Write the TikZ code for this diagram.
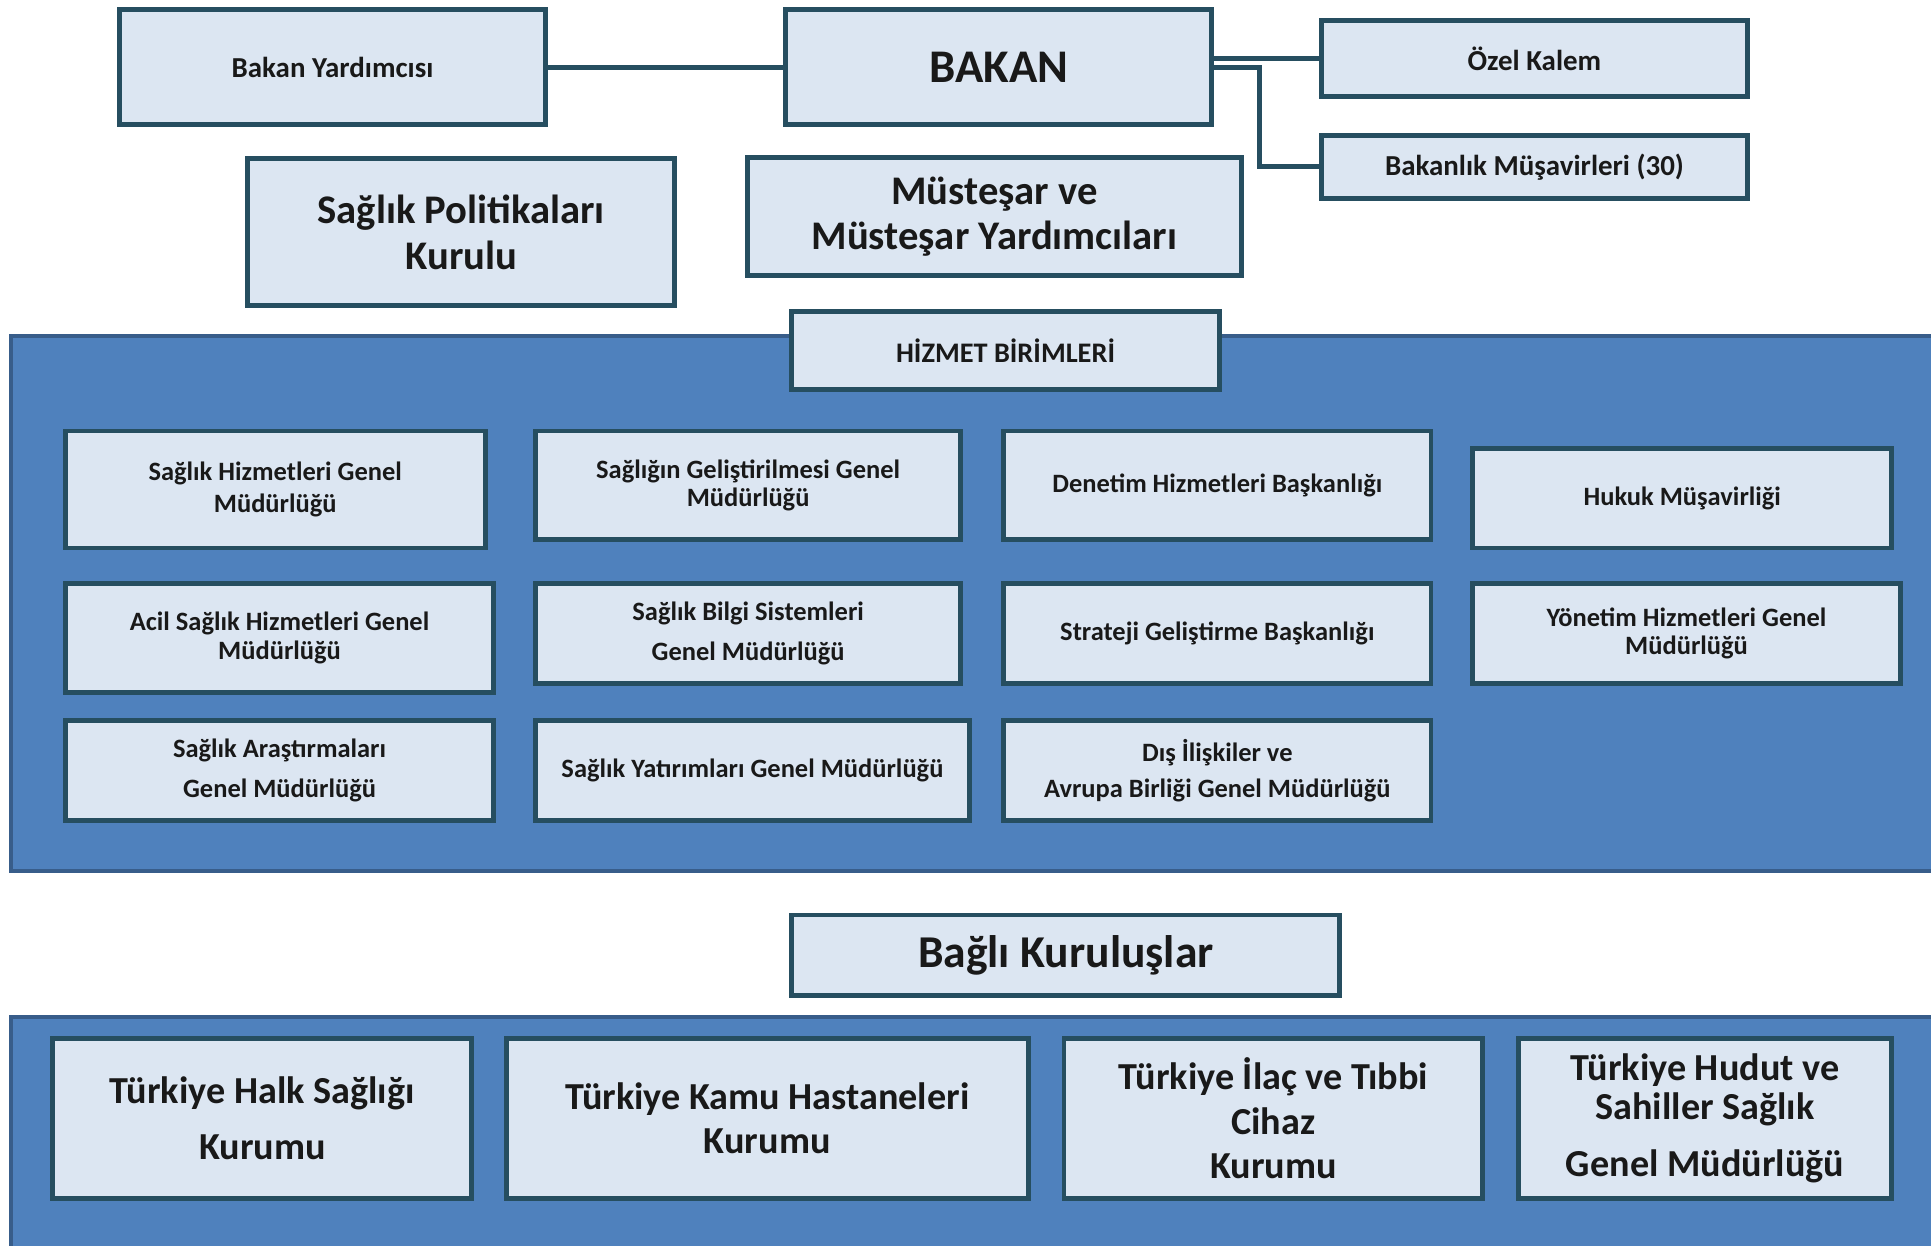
\documentclass[tikz,border=0pt]{standalone}
\usepackage{fontspec}
\setmainfont{Carlito}
\usetikzlibrary{positioning}
\definecolor{boxfill}{RGB}{220,230,242}
\definecolor{boxline}{RGB}{38,78,96}
\definecolor{panelfill}{RGB}{79,129,189}
\definecolor{panelline}{RGB}{56,93,138}
\definecolor{ink}{RGB}{25,25,25}
\tikzset{
  unit/.style={draw=boxline, fill=boxfill, line width=4pt, inner sep=0pt,
    align=center, text=ink, font=\bfseries\fontsize{21.5}{26}\selectfont},
  sz/.style 2 args={minimum width=#1, minimum height=#2},
  toptext/.style={font=\bfseries\fontsize{23.5}{28}\selectfont},
  midtext/.style={font=\bfseries\fontsize{33}{37}\selectfont},
  bigtext/.style={font=\bfseries\fontsize{31}{36}\selectfont},
  panel/.style={draw=panelline, fill=panelfill, line width=3pt},
  link/.style={draw=boxline, line width=4pt},
}

\begin{document}
\begin{tikzpicture}[x=1pt, y=-1pt]
\useasboundingbox (0,0) rectangle (1568,1011);
% top level
\node[unit, sz={346}{93}, toptext] (yard) at (270,54.5) {Bakan Yardımcısı};
\node[unit, sz={346}{93}, font=\bfseries\fontsize{38}{42}\selectfont] (bakan) at (811,54.5) {BAKAN};
\node[unit, sz={346}{61}, toptext] (ozel) at (1246,47.5) {Özel Kalem};
\node[unit, sz={346}{51}, toptext] (musavir) at (1246,135.5) {Bakanlık Müşavirleri (30)};
\node[unit, sz={347}{119}, midtext] (politika) at (374.5,188.5) {Sağlık Politikaları\\Kurulu};
\node[unit, sz={401}{96}, midtext] (mustesar) at (807.5,176) {Müsteşar ve\\Müsteşar Yardımcıları};
\coordinate (elbow) at (1023,54.5);
\draw[link] (yard) -- (bakan);
\draw[link] (ozel.west -| bakan.east) -- (ozel.west);
\draw[link] (bakan.east) -- (elbow) |- (musavir.west);
% hizmet birimleri
\draw[panel] (9,273) rectangle (1580,707);
\node[unit, sz={347}{63}, font=\bfseries\fontsize{23}{26}\selectfont] (hizmet) at (816.5,284.5) {HİZMET BİRİMLERİ};
\node[unit, sz={341}{95}] (shgm) at (223.5,397.5) {Sağlık Hizmetleri Genel\\Müdürlüğü};
\node[unit, sz={345}{88}] (sggm) at (607.5,394) {Sağlığın Geliştirilmesi Genel\\[-3pt]Müdürlüğü};
\node[unit, sz={347}{88}] (dhb) at (988.5,394) {Denetim Hizmetleri Başkanlığı};
\node[unit, sz={340}{81}] (hm) at (1366,404.5) {Hukuk Müşavirliği};
\node[unit, sz={348}{88}] (ashgm) at (227,518) {Acil Sağlık Hizmetleri Genel\\[-3pt]Müdürlüğü};
\node[unit, sz={345}{81}] (sbsgm) at (607.5,514.5) {Sağlık Bilgi Sistemleri\\[7pt]Genel Müdürlüğü};
\node[unit, sz={347}{81}] (sgb) at (988.5,514.5) {Strateji Geliştirme Başkanlığı};
\node[unit, sz={347}{81}] (yhgm) at (1369.5,514.5) {Yönetim Hizmetleri Genel\\[-3pt]Müdürlüğü};
\node[unit, sz={348}{81}] (sagm) at (227,625.5) {Sağlık Araştırmaları\\[7pt]Genel Müdürlüğü};
\node[unit, sz={352}{81}] (sygm) at (611,625.5) {Sağlık Yatırımları Genel Müdürlüğü};
\node[unit, sz={347}{81}] (digm) at (988.5,625.5) {Dış İlişkiler ve\\[3pt]Avrupa Birliği Genel Müdürlüğü};
% bagli kuruluslar
\node[unit, sz={445}{65}, font=\bfseries\fontsize{37}{40}\selectfont] (bagli) at (865.5,775.5) {Bağlı Kuruluşlar};
\draw[panel] (9,826) rectangle (1580,1020);
\node[unit, sz={340}{130}, bigtext] (thsk) at (213,908) {Türkiye Halk Sağlığı\\[10pt]Kurumu};
\node[unit, sz={424}{130}, bigtext] (tkhk) at (623,908) {Türkiye Kamu Hastaneleri\\Kurumu};
\node[unit, sz={340}{130}, bigtext] (titck) at (1034,908) {Türkiye İlaç ve Tıbbi\\Cihaz\\Kurumu};
\node[unit, sz={303}{130}, bigtext] (thsgm) at (1384.5,908) {Türkiye Hudut ve\\[-4pt]Sahiller Sağlık\\[10pt]Genel Müdürlüğü};
\end{tikzpicture}
\end{document}
